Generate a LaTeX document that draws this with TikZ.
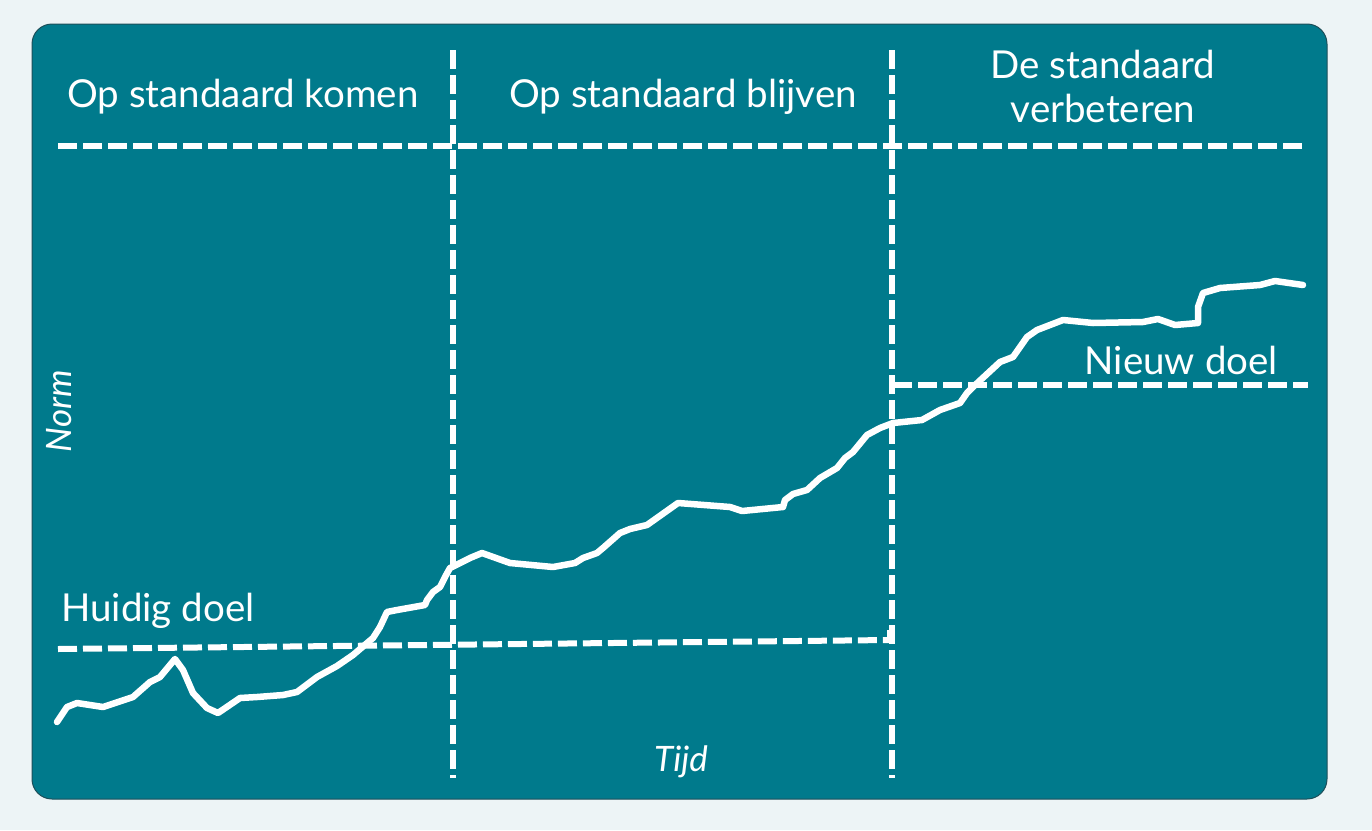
\documentclass[tikz,border=0pt]{standalone}
\usepackage{fontspec}
\setmainfont{Lato}
\definecolor{bgc}{HTML}{EDF4F6}
\definecolor{teal}{HTML}{007A8C}
\definecolor{rim}{HTML}{1D4F5A}
\tikzset{
  guide/.style={white,line width=6pt,dash pattern=on 19pt off 6pt},
  lbl/.style={white,font=\fontsize{38.5}{44}\selectfont,inner sep=0pt},
  axis/.style={white,font=\fontsize{35}{40}\selectfont\itshape,inner sep=0pt},
  trend/.style={white,line width=6.5pt,line join=round,line cap=round}
}
\begin{document}
\begin{tikzpicture}[x=1pt,y=-1pt]
\fill[bgc] (0,0) rectangle (1372,830);
\useasboundingbox (0,0) rectangle (1372,830);
\filldraw[fill=teal,draw=rim,line width=1pt,rounded corners=20pt] (32,24) rectangle (1327,799);
% guides
\coordinate (t1) at (58,146); \coordinate (t2) at (1305,146);
\draw[guide] (t1) -- (t2);
\coordinate (v1a) at (453,50); \coordinate (v1b) at (453,778);
\draw[guide] (v1a) -- (v1b);
\coordinate (v2a) at (892,50); \coordinate (v2b) at (892,778);
\draw[guide] (v2a) -- (v2b);
\coordinate (h1) at (58,649); \coordinate (h2) at (890,640);
\draw[guide] (h1) -- (h2) -- ++(0,-10);
\coordinate (n1) at (893,385); \coordinate (n2) at (1308,385);
\draw[guide] (n1) -- (n2);
% labels
\node[lbl] (p1) at (243,97) {Op standaard komen};
\node[lbl] (p2) at (683,97) {Op standaard blijven};
\node[lbl,align=center] (p3) at (1103,86) {De standaard\\verbeteren};
\node[lbl,anchor=west] (hd) at (61,611) {Huidig doel};
\node[lbl,anchor=east] (nd) at (1278,360) {Nieuw doel};
\node[axis] (tijd) at (681,762) {Tijd};
\node[axis,rotate=90] (norm) at (59,411) {Norm};
% trend line
\draw[trend] (57,722) -- (67,707) -- (77,703) -- (103,707) -- (133,697) -- (150,682) -- (160,677) -- (175,659) -- (183,670) -- (193,693) -- (207,708) -- (218,713) -- (240,698) -- (257,697) -- (283,695) -- (297,692) -- (313,680) -- (317,677) -- (337,666) -- (353,655) -- (373,638) -- (380,627) -- (387,612) -- (397,610) -- (425,605) -- (427,600) -- (433,592) -- (440,587) -- (445,577) -- (450,568) -- (460,563) -- (470,558) -- (482,553) -- (510,563) -- (553,567) -- (575,563) -- (583,558) -- (597,553) -- (603,548) -- (620,533) -- (630,529) -- (647,525) -- (678,503) -- (730,507) -- (742,511) -- (783,507) -- (785,500) -- (793,494) -- (807,490) -- (820,478) -- (837,468) -- (845,458) -- (853,452) -- (867,435) -- (880,428) -- (893,423) -- (922,420) -- (940,410) -- (960,403) -- (967,393) -- (973,387) -- (1000,362) -- (1013,357) -- (1027,337) -- (1037,330) -- (1063,320) -- (1093,323) -- (1143,322) -- (1158,319) -- (1175,325) -- (1198,323) -- (1198,307) -- (1203,293) -- (1220,288) -- (1260,285) -- (1275,281) -- (1303,285);
\end{tikzpicture}
\end{document}
